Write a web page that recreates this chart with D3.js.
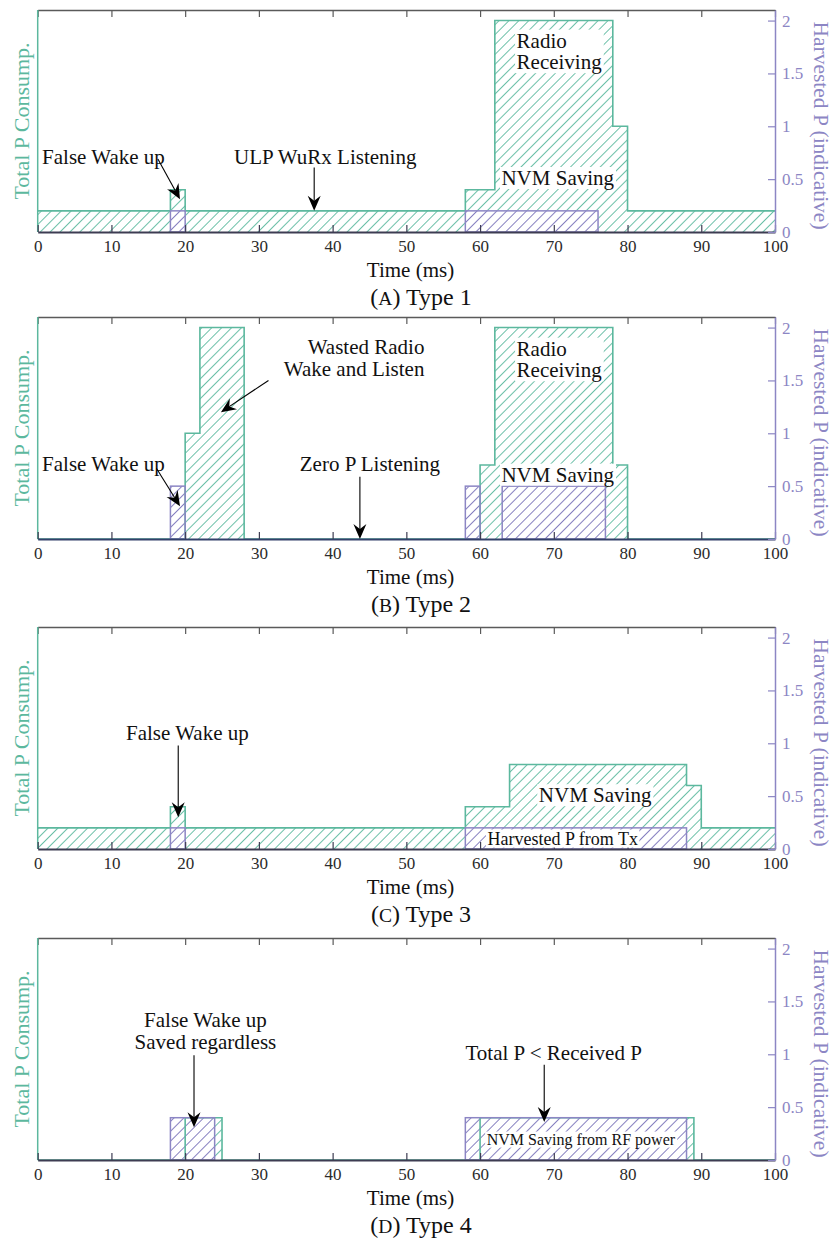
<!DOCTYPE html>
<html>
<head>
<meta charset="utf-8">
<script src="https://cdn.jsdelivr.net/npm/d3@7"></script>
<style>
  body { margin: 0; background: #ffffff; }
  svg text { font-family: "Liberation Serif", "DejaVu Serif", serif; }
</style>
</head>
<body>
<svg id="chart" width="833" height="1239"></svg>
<script>
// ---- Axis ticks ----
const timeTicks = [0, 10, 20, 30, 40, 50, 60, 70, 80, 90, 100];
const powerTicks = [0, 0.5, 1, 1.5, 2];

// ---- Type 1: ULP wake-up receiver ----
const type1TotalEdges  = [0, 18, 20, 58, 62, 78, 80, 100];
const type1TotalLevels = [0.2, 0.4, 0.2, 0.4, 2.0, 1.0, 0.2];
const type1HarvestStart = [18, 58];
const type1HarvestEnd   = [20, 76];
const type1HarvestLevel = [0.2, 0.2];

// ---- Type 2: zero-power listening ----
const type2TotalEdges  = [0, 20, 22, 28, 60, 62, 78, 80, 100];
const type2TotalLevels = [0, 1.0, 2.0, 0, 0.7, 2.0, 0.7, 0];
const type2HarvestStart = [18, 58, 63];
const type2HarvestEnd   = [20, 60, 77];
const type2HarvestLevel = [0.5, 0.5, 0.5];

// ---- Type 3: harvesting from the transmitter ----
const type3TotalEdges  = [0, 18, 20, 58, 64, 88, 90, 100];
const type3TotalLevels = [0.2, 0.4, 0.2, 0.4, 0.8, 0.6, 0.2];
const type3HarvestStart = [18, 58];
const type3HarvestEnd   = [20, 88];
const type3HarvestLevel = [0.2, 0.2];

// ---- Type 4: saving powered by RF ----
const type4TotalEdges  = [0, 20, 25, 60, 89, 100];
const type4TotalLevels = [0, 0.4, 0, 0.4, 0];
const type4HarvestStart = [18, 58];
const type4HarvestEnd   = [24, 88];
const type4HarvestLevel = [0.4, 0.4];

// ---- Annotations (text anchored in time / power units) ----
const type1Labels = [
  { lines: ["False Wake up"], t: 0.6, p: 0.71, anchor: "start" },
  { lines: ["ULP WuRx Listening"], t: 39.0, p: 0.71, anchor: "middle" },
  { lines: ["Radio", "Receiving"], t: 64.95, p: 1.81, anchor: "start", box: true },
  { lines: ["NVM Saving"], t: 62.9, p: 0.51, anchor: "start", box: true }
];
const type1Arrows = [
  { from: [16.3, 0.69], to: [19.3, 0.31] },
  { from: [37.5, 0.61], to: [37.5, 0.2] }
];

const type2Labels = [
  { lines: ["False Wake up"], t: 0.6, p: 0.71, anchor: "start" },
  { lines: ["Zero P Listening"], t: 45.06, p: 0.71, anchor: "middle" },
  { lines: ["Wasted Radio", "Wake and Listen"], t: 52.45, p: 1.816, anchor: "end" },
  { lines: ["Radio", "Receiving"], t: 64.95, p: 1.80, anchor: "start", box: true },
  { lines: ["NVM Saving"], t: 62.9, p: 0.608, anchor: "start", box: true }
];
const type2Arrows = [
  { from: [16.1, 0.67], to: [19.3, 0.31] },
  { from: [31.3, 1.50], to: [24.85, 1.20] },
  { from: [43.7, 0.59], to: [43.7, 0] }
];

const type3Labels = [
  { lines: ["False Wake up"], t: 20.3, p: 1.10, anchor: "middle" },
  { lines: ["NVM Saving"], t: 75.6, p: 0.508, anchor: "middle", box: true },
  { lines: ["Harvested P from Tx"], t: 71.2, p: 0.098, anchor: "middle", box: true, small: 18 }
];
const type3Arrows = [
  { from: [19.06, 0.98], to: [19.06, 0.30] }
];

const type4Labels = [
  { lines: ["False Wake up", "Saved regardless"], t: 22.75, p: 1.32, anchor: "middle" },
  { lines: ["Total P < Received P"], t: 69.98, p: 1.01, anchor: "middle" },
  { lines: ["NVM Saving from RF power"], t: 73.67, p: 0.196, anchor: "middle", box: true, small: 16 }
];
const type4Arrows = [
  { from: [21.2, 0.99], to: [21.2, 0.31] },
  { from: [68.7, 0.90], to: [68.7, 0.36] }
];

const captionLetters = ["A", "B", "C", "D"];
const captionTitles = ["Type 1", "Type 2", "Type 3", "Type 4"];

const panels = [
  { edges: type1TotalEdges, levels: type1TotalLevels, hs: type1HarvestStart, he: type1HarvestEnd, hl: type1HarvestLevel, labels: type1Labels, arrows: type1Arrows },
  { edges: type2TotalEdges, levels: type2TotalLevels, hs: type2HarvestStart, he: type2HarvestEnd, hl: type2HarvestLevel, labels: type2Labels, arrows: type2Arrows },
  { edges: type3TotalEdges, levels: type3TotalLevels, hs: type3HarvestStart, he: type3HarvestEnd, hl: type3HarvestLevel, labels: type3Labels, arrows: type3Arrows },
  { edges: type4TotalEdges, levels: type4TotalLevels, hs: type4HarvestStart, he: type4HarvestEnd, hl: type4HarvestLevel, labels: type4Labels, arrows: type4Arrows }
];

// ---- Layout & style ----
const TEAL = "#5cb89e";
const TEAL_HATCH = "#6cc0a8";
const PURPLE = "#8c86c4";
const PURPLE_HATCH = "#8680c0";
const AXIS_DARK = "#3d3c52";
const TOP_GRAY = "#5a5a5a";
const plotLeft = 37.7, plotRight = 775;
const panelTops = [10, 317, 627, 938];
const plotHeight = 222;

const svg = d3.select("#chart");
const defs = svg.append("defs");

function hatch(id, color) {
  const pat = defs.append("pattern")
    .attr("id", id)
    .attr("patternUnits", "userSpaceOnUse")
    .attr("width", 7).attr("height", 7)
    .attr("patternTransform", "rotate(45)");
  pat.append("line")
    .attr("x1", 3.5).attr("y1", -1).attr("x2", 3.5).attr("y2", 8)
    .attr("stroke", color).attr("stroke-width", 1);
}
hatch("hatchTeal", TEAL_HATCH);
hatch("hatchPurple", PURPLE_HATCH);

const x = d3.scaleLinear().domain([0, 100]).range([plotLeft, plotRight]);

function arrow(g, x1, y1, x2, y2) {
  const dx = x2 - x1, dy = y2 - y1;
  const len = Math.hypot(dx, dy);
  const ux = dx / len, uy = dy / len;
  const nx = -uy, ny = ux;
  const L = 15, W = 6.5, N = 5;
  const bx = x2 - L * ux, by = y2 - L * uy;
  const mx = x2 - (L - N) * ux, my = y2 - (L - N) * uy;
  g.append("line")
    .attr("x1", x1).attr("y1", y1).attr("x2", mx).attr("y2", my)
    .attr("stroke", "#000").attr("stroke-width", 1.1);
  g.append("path")
    .attr("d", `M${x2},${y2}L${bx + W * nx},${by + W * ny}L${mx},${my}L${bx - W * nx},${by - W * ny}Z`)
    .attr("fill", "#000");
}

panels.forEach((pan, i) => {
  const top = panelTops[i];
  const base = top + plotHeight;
  const y = d3.scaleLinear().domain([0, 2.1]).range([base, top]);
  const g = svg.append("g");

  // step series for total consumption
  const steps = pan.edges.map((e, k) => ({ t: e, p: k < pan.levels.length ? pan.levels[k] : pan.levels[pan.levels.length - 1] }));

  const area = d3.area()
    .curve(d3.curveStepAfter)
    .x(d => x(d.t)).y0(y(0)).y1(d => y(d.p));
  const line = d3.line()
    .curve(d3.curveStepAfter)
    .x(d => x(d.t)).y(d => y(d.p));

  g.append("path").attr("d", area(steps)).attr("fill", "url(#hatchTeal)");

  // harvested power blocks
  const harvest = pan.hs.map((s, k) => ({ s, e: pan.he[k], p: pan.hl[k] }));
  g.selectAll("rect.harvestFill").data(harvest).enter().append("rect")
    .attr("x", d => x(d.s)).attr("width", d => x(d.e) - x(d.s))
    .attr("y", d => y(d.p)).attr("height", d => y(0) - y(d.p))
    .attr("fill", "#fff");
  g.selectAll("rect.harvestHatch").data(harvest).enter().append("rect")
    .attr("x", d => x(d.s)).attr("width", d => x(d.e) - x(d.s))
    .attr("y", d => y(d.p)).attr("height", d => y(0) - y(d.p))
    .attr("fill", "url(#hatchPurple)");

  g.append("path").attr("d", line(steps))
    .attr("fill", "none").attr("stroke", TEAL).attr("stroke-width", 1.6);

  g.selectAll("rect.harvestEdge").data(harvest).enter().append("rect")
    .attr("x", d => x(d.s)).attr("width", d => x(d.e) - x(d.s))
    .attr("y", d => y(d.p)).attr("height", d => y(0) - y(d.p))
    .attr("fill", "none").attr("stroke", PURPLE).attr("stroke-width", 1.5);

  // axes: top frame, left spine, bottom time axis, right harvested axis
  const topAxis = g.append("g").attr("transform", `translate(0,${top})`)
    .call(d3.axisTop(x).tickValues(timeTicks).tickSizeInner(-7).tickSizeOuter(0).tickFormat(""));
  topAxis.select(".domain").attr("stroke", TOP_GRAY).attr("stroke-width", 1.5);
  topAxis.selectAll(".tick line").attr("stroke", TOP_GRAY).attr("stroke-width", 1.2);

  g.append("line")
    .attr("x1", plotLeft).attr("x2", plotLeft).attr("y1", top).attr("y2", base)
    .attr("stroke", TEAL).attr("stroke-width", 1.5);

  const bottomAxis = g.append("g").attr("transform", `translate(0,${base})`)
    .call(d3.axisBottom(x).tickValues(timeTicks).tickSizeInner(-7).tickSizeOuter(0).tickPadding(8));
  bottomAxis.select(".domain").attr("stroke", i === 1 ? "#33406a" : AXIS_DARK).attr("stroke-width", 1.8);
  bottomAxis.selectAll(".tick line").attr("stroke", AXIS_DARK).attr("stroke-width", 1.2);
  bottomAxis.selectAll(".tick text")
    .attr("fill", "#2b2b2b").attr("font-size", 17)
    .style("font-family", "'Liberation Serif', serif");

  const rightAxis = g.append("g").attr("transform", `translate(${plotRight},0)`)
    .call(d3.axisRight(y).tickValues(powerTicks).tickSizeInner(-7).tickSizeOuter(0).tickPadding(7).tickFormat(d => String(d)));
  rightAxis.select(".domain").attr("stroke", PURPLE).attr("stroke-width", 1.5);
  rightAxis.selectAll(".tick line").attr("stroke", PURPLE).attr("stroke-width", 1.2);
  rightAxis.selectAll(".tick text")
    .attr("fill", PURPLE).attr("font-size", 17)
    .style("font-family", "'Liberation Serif', serif");

  // axis titles
  g.append("text")
    .attr("transform", `translate(28.5,${top + 111}) rotate(-90)`)
    .attr("text-anchor", "middle").attr("font-size", 22).attr("fill", TEAL)
    .text("Total P Consump.");
  g.append("text")
    .attr("transform", `translate(813.5,${top + 115.5}) rotate(90)`)
    .attr("text-anchor", "middle").attr("font-size", 21.5).attr("fill", PURPLE)
    .text("Harvested P (indicative)");
  g.append("text")
    .attr("x", 410.5).attr("y", base + 38).attr("dy", "0.33em")
    .attr("text-anchor", "middle").attr("font-size", 21).attr("fill", "#111")
    .text("Time (ms)");

  // sub-caption with small-caps letter
  const cap = g.append("text")
    .attr("x", 421).attr("y", base + 65).attr("dy", "0.33em")
    .attr("text-anchor", "middle").attr("font-size", 24).attr("fill", "#111");
  cap.append("tspan").text("(");
  cap.append("tspan").attr("font-size", 19.5).text(captionLetters[i]);
  cap.append("tspan").text(") " + captionTitles[i]);

  // annotation text
  pan.labels.forEach(lb => {
    const fs = lb.small || 21;
    const t = g.append("text")
      .attr("text-anchor", lb.anchor).attr("font-size", fs).attr("fill", "#111");
    lb.lines.forEach((ln, k) => {
      t.append("tspan")
        .attr("x", x(lb.t)).attr("y", y(lb.p) + k * 21.6).attr("dy", "0.33em")
        .text(ln);
    });
    if (lb.box) {
      const bb = t.node().getBBox();
      g.insert("rect", () => t.node())
        .attr("x", bb.x - 1.5).attr("y", bb.y + 1)
        .attr("width", bb.width + 3).attr("height", bb.height - 2)
        .attr("fill", "#fff");
    }
  });

  // annotation arrows
  pan.arrows.forEach(a => arrow(g, x(a.from[0]), y(a.from[1]), x(a.to[0]), y(a.to[1])));
});
</script>
</body>
</html>
